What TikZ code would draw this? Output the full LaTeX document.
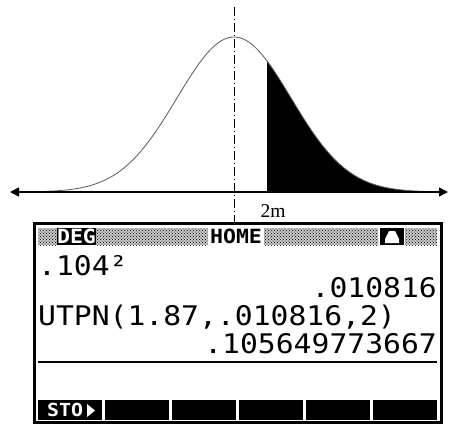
\documentclass[tikz,border=0pt]{standalone}
\usepackage{fontspec}
\setmainfont{Liberation Serif}
\newfontfamily\calcfont[FakeStretch=1.1]{DejaVu Sans Mono}
\usetikzlibrary{arrows.meta,patterns}

\begin{document}
\begin{tikzpicture}[x=1pt,y=-1pt,
    curve/.style={gray!70!black, line width=0.8pt},
    screentxt/.style={inner sep=0pt, font=\calcfont\fontsize{27}{27}\selectfont},
    headtxt/.style={inner sep=0pt, font=\calcfont\bfseries\fontsize{19.6}{20}\selectfont},
    headdots/.style={fill=gray!45, postaction={pattern=crosshatch dots, pattern color=black}},
    softkey/.style={fill=black}]
  \useasboundingbox (0,0) rectangle (449,424);
  \fill[black] (267,192) -- plot[domain=267:440,samples=80] (\x,{192-155*exp(-0.5*((\x-234)/57)^2)}) -- (440,192) -- cycle;
  \draw[curve] plot[domain=45:430,samples=150] (\x,{192-155*exp(-0.5*((\x-234)/57)^2)});
  \coordinate (axl) at (10,192);
  \coordinate (axr) at (448,192);
  \draw[line width=1.5pt, {Triangle[length=9pt,width=9pt]}-{Triangle[length=9pt,width=9pt]}] (axl) -- (axr);
  \coordinate (mtop) at (234,7);
  \coordinate (mbot) at (234,223);
  \draw[line width=0.8pt, dash pattern=on 9pt off 3pt on 1pt off 3pt] (mtop) -- (mbot);
  \node[font=\fontsize{19.5}{20}\selectfont, inner sep=0pt] (twom) at (273,211.5) {2m};

  \draw[line width=2.8pt] (34.5,223.5) rectangle (441.5,422.5);
  \fill[headdots] (38,228) rectangle (57,245);
  \node[headtxt, fill=black, text=white, minimum width=39pt, minimum height=17pt] (deg) at (76.5,236.5) {DEG};
  \fill[headdots] (96,228) rectangle (208,245);
  \node[headtxt] (home) at (236,236.5) {HOME};
  \fill[headdots] (264,228) rectangle (378,245);
  \node[fill=black, minimum width=24pt, minimum height=17pt, inner sep=0pt] (bell) at (392,236.5) {};
  \fill[white] (385,243) -- (385,239) -- (389,231) -- (395,231) -- (399,239) -- (399,243) -- cycle;
  \fill[headdots] (405,228) rectangle (437,245);

  \node[screentxt, anchor=base west] (sqr) at (38,275) {.104²};
  \node[screentxt, anchor=base east] (res1) at (437,297) {.010816};
  \node[screentxt, anchor=base west] (utpn) at (38,325) {UTPN(1.87,.010816,2)};
  \node[screentxt, anchor=base east] (res2) at (437,353) {.105649773667};
  \draw[line width=2pt] (38,362) -- (437,362);

  \foreach \i in {0,...,5}
    \fill[softkey] ({38+\i*67},400) rectangle ({102+\i*67},420);
  \node[headtxt, font=\calcfont\bfseries\fontsize{18}{18}\selectfont, text=white, anchor=base west] (sto) at (47,416.5) {STO};
  \fill[white] (87,404) -- (95,410.5) -- (87,417) -- cycle;
\end{tikzpicture}
\end{document}
